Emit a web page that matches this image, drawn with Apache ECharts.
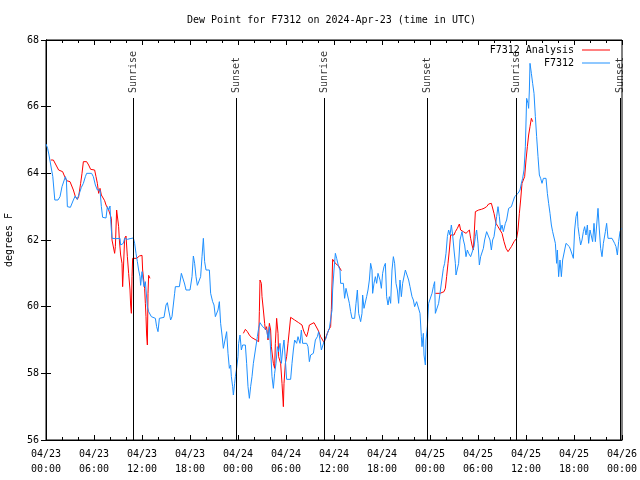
<!DOCTYPE html>
<html>
<head>
<meta charset="utf-8">
<script src="https://cdn.jsdelivr.net/npm/echarts@6/dist/echarts.min.js"></script>
<style>html,body{margin:0;padding:0;background:#fff}#c{width:640px;height:480px}</style>
</head>
<body>
<div id="c"></div>
<script>
// Hours since 2024-04-23 00:00 UTC
const obsHour = [0.0,0.2,0.35,0.6,0.85,1.1,1.5,1.75,2.0,2.2,2.42,2.55,2.67,3.05,3.2,3.42,3.65,3.9,4.17,4.42,4.67,4.92,5.08,5.7,5.92,6.17,6.42,6.75,6.92,7.08,7.5,7.67,7.83,8.0,8.08,8.17,8.25,8.75,9.25,9.33,9.67,9.83,10.17,10.5,10.92,11.08,11.25,11.42,11.58,11.75,11.83,12.0,12.25,12.42,12.67,12.83,13.17,13.67,13.83,14.0,14.17,14.75,15.0,15.17,15.33,15.58,15.75,16.08,16.17,16.67,16.92,17.17,17.33,17.5,18.0,18.25,18.42,18.58,18.75,18.92,19.17,19.33,19.5,19.67,19.83,20.0,20.42,20.58,20.83,21.0,21.17,21.5,21.67,21.83,22.0,22.17,22.42,22.58,22.75,22.92,23.08,23.17,23.33,23.42,23.58,23.67,23.83,24.0,24.08,24.25,24.42,24.58,24.75,24.92,25.08,25.25,25.42,25.58,25.75,25.92,26.17,26.42,26.58,26.75,27.08,27.33,27.58,27.75,27.92,28.08,28.25,28.42,28.58,28.75,28.92,29.08,29.25,29.42,29.58,29.75,29.92,30.08,30.58,30.75,30.92,31.08,31.33,31.5,31.75,31.92,32.08,32.33,32.58,32.75,32.92,33.08,33.42,33.67,33.92,34.08,34.25,34.42,34.58,34.75,35.0,35.17,35.42,35.58,35.75,35.83,36.0,36.17,36.33,36.58,36.75,36.83,37.08,37.17,37.33,37.5,37.75,37.92,38.08,38.25,38.58,38.75,38.92,39.08,39.33,39.5,39.58,39.75,39.92,40.08,40.25,40.42,40.58,40.75,40.83,41.0,41.17,41.33,41.5,41.75,41.92,42.08,42.25,42.42,42.58,42.75,42.92,43.08,43.25,43.42,43.58,43.75,43.92,44.08,44.25,44.42,44.58,44.75,44.92,45.17,45.33,45.5,45.75,45.92,46.08,46.33,46.58,46.75,46.92,47.0,47.17,47.25,47.42,47.5,47.67,47.83,48.08,48.25,48.42,48.58,48.67,48.92,49.08,49.25,49.5,49.67,49.83,50.0,50.17,50.33,50.5,50.67,50.83,51.0,51.17,51.25,51.42,51.58,51.75,52.0,52.17,52.33,52.5,52.67,52.83,53.08,53.33,53.5,53.67,53.83,54.0,54.17,54.33,54.5,54.67,54.83,55.08,55.33,55.5,55.67,55.83,56.0,56.17,56.33,56.5,56.67,56.83,57.0,57.17,57.42,57.58,57.83,58.17,58.42,58.58,58.83,59.0,59.25,59.42,59.58,59.75,59.92,60.08,60.25,60.33,60.42,60.5,60.67,60.83,61.0,61.17,61.33,61.5,61.67,61.83,62.0,62.17,62.33,62.5,62.67,62.83,63.0,63.17,63.33,63.5,63.67,63.83,63.92,64.08,64.25,64.42,64.58,64.83,65.0,65.25,65.42,65.58,65.75,65.92,66.08,66.25,66.42,66.5,66.67,66.83,67.0,67.17,67.33,67.5,67.67,67.83,68.0,68.17,68.33,68.5,68.67,68.83,69.0,69.17,69.33,69.5,69.67,69.92,70.08,70.25,70.5,70.75,70.92,71.08,71.25,71.42,71.58,71.75,71.92];
const obsDewF = [64.88,64.75,64.58,64.6,63.9,63.2,63.2,63.3,63.6,63.55,63.9,63.8,63.0,62.98,62.93,63.2,63.32,63.22,63.4,63.58,63.7,63.9,64.0,64.0,63.9,63.65,63.5,63.5,63.0,62.68,62.66,63.0,62.9,63.02,62.62,62.3,62.05,62.04,62.05,61.85,61.9,62.05,62.02,62.04,62.06,61.9,61.6,61.35,61.1,60.9,60.64,61.05,60.6,60.75,60.0,59.85,59.7,59.65,59.4,59.25,59.65,59.68,60.05,60.12,59.9,59.6,59.7,60.4,60.6,60.6,61.0,61.0,60.68,60.5,60.5,60.9,61.52,61.3,60.9,60.64,60.62,60.9,61.5,62.05,61.35,61.1,61.1,60.4,60.15,60.05,59.7,59.9,60.15,59.5,59.15,58.75,58.75,59.25,58.6,58.15,58.25,57.9,57.6,57.35,57.7,57.9,58.15,58.5,58.9,59.15,58.7,58.85,58.8,58.85,58.3,57.6,57.25,57.6,57.9,58.3,58.7,59.1,59.35,59.52,59.4,59.35,59.3,59.05,59.4,58.7,57.9,57.55,58.0,58.3,58.8,58.65,58.9,58.3,58.7,59.0,58.4,57.82,57.82,58.3,58.7,59.0,58.9,59.1,58.9,59.3,58.9,58.85,58.9,58.8,58.35,58.55,58.6,59.0,59.1,59.25,59.0,58.7,58.75,58.95,59.05,59.2,59.35,59.4,59.9,60.5,61.1,61.6,61.45,61.2,61.1,60.7,60.65,60.7,60.25,60.55,60.5,60.1,59.85,59.65,59.65,60.1,60.5,59.8,59.55,59.8,60.35,59.95,59.9,60.3,60.5,60.8,61.3,61.1,60.4,60.7,60.9,60.7,61.0,60.8,60.55,61.0,61.2,61.3,60.3,60.05,60.3,60.1,61.1,61.5,61.3,60.7,60.5,60.1,60.8,60.3,60.7,60.7,61.1,61.1,60.8,60.6,60.3,60.2,60.0,60.15,60.15,59.8,59.1,58.8,59.2,58.55,58.25,59.0,59.4,60.1,60.15,60.4,60.6,60.75,59.8,59.8,60.1,60.4,60.45,61.15,61.3,61.6,62.1,62.3,62.15,62.45,62.15,61.7,61.3,60.95,60.95,61.3,62.0,62.25,62.0,61.85,61.5,61.7,61.6,61.5,61.5,61.8,62.1,62.3,61.9,61.25,61.5,61.5,61.75,62.0,62.25,62.25,62.0,61.7,62.0,62.1,62.4,62.7,63.0,62.7,62.3,62.45,62.25,62.5,62.6,62.95,63.0,63.0,63.3,63.3,63.4,63.5,63.7,63.85,64.1,64.8,66.25,66.1,65.95,66.5,67.3,67.0,66.7,66.4,65.7,65.1,64.5,63.95,63.85,63.7,63.85,63.9,63.85,63.4,63.1,62.8,62.45,62.25,62.2,61.9,61.3,61.7,60.9,61.4,60.9,61.4,61.4,61.9,61.85,61.8,61.7,61.7,61.45,62.3,62.7,62.85,62.4,62.1,61.85,62.0,62.25,62.4,62.15,62.45,61.9,62.3,62.35,61.95,62.5,61.95,61.95,62.95,62.3,61.75,61.5,61.9,62.25,62.5,62.05,62.0,62.05,62.0,61.9,61.8,61.55,61.95,62.25,62.35];

// Analysis series; null marks a gap in the analysis
const anaHour = [0.6,0.92,1.25,1.42,1.58,1.75,2.08,2.25,2.42,2.58,3.0,3.17,3.42,3.67,3.92,4.08,4.17,4.33,4.5,4.67,5.08,5.33,5.58,6.08,6.25,6.42,6.58,6.75,6.92,7.08,7.33,7.5,7.67,7.83,8.0,8.17,8.25,8.5,8.58,8.67,8.83,9.0,9.08,9.17,9.33,9.5,9.58,9.67,9.83,10.0,10.17,10.33,10.5,10.58,10.67,10.75,10.83,11.33,11.67,12.0,12.08,12.25,12.33,12.42,12.5,12.58,12.67,12.75,12.83,13.0,
  18.0,
  24.67,24.92,25.17,25.42,25.67,25.92,26.25,26.58,26.67,26.75,26.92,27.0,27.17,27.33,27.42,27.58,27.75,27.92,28.08,28.17,28.42,28.58,28.67,28.83,29.0,29.08,29.33,29.5,29.67,29.75,29.92,30.08,30.25,30.42,30.58,30.83,31.08,31.33,31.58,31.83,32.0,32.17,32.33,32.58,32.75,32.92,33.17,33.5,33.75,34.0,34.17,34.33,34.58,34.75,35.0,35.17,35.33,35.58,35.67,35.83,36.17,36.58,36.92,
  42.0,
  48.67,49.25,49.75,49.92,50.08,50.25,50.42,50.58,50.83,51.0,51.17,51.42,51.67,51.83,52.17,52.5,52.67,52.92,53.08,53.25,53.42,53.58,53.67,53.92,54.08,54.42,54.75,55.08,55.33,55.67,55.83,56.0,56.25,56.5,56.75,57.0,57.25,57.5,57.75,57.92,58.17,58.5,58.83,59.0,59.17,59.33,59.5,59.67,59.83,60.0,60.17,60.33,60.5,60.67,60.83];
const anaDewF = [64.4,64.4,64.25,64.2,64.1,64.05,64.05,63.95,63.9,63.78,63.75,63.65,63.5,63.3,63.22,63.3,63.35,63.7,64.0,64.35,64.35,64.25,64.12,64.1,63.9,63.7,63.4,63.55,63.35,63.3,63.18,63.05,63.02,62.9,62.9,62.65,62.0,62.0,61.6,61.8,62.9,62.9,62.4,62.0,61.55,61.3,60.6,61.1,62.05,62.12,61.5,61.0,60.5,60.05,59.8,60.9,61.45,61.45,61.52,61.54,61.1,60.7,60.55,60.1,59.7,59.15,58.85,60.4,60.94,60.85,
  null,
  59.2,59.32,59.25,59.15,59.08,59.02,59.0,58.95,59.85,60.8,60.7,60.3,59.9,59.5,59.3,59.4,59.0,59.5,59.3,58.8,58.3,58.15,58.9,59.65,59.2,58.5,58.3,57.7,57.0,57.7,58.3,58.5,58.9,59.3,59.68,59.65,59.6,59.55,59.52,59.5,59.45,59.3,59.2,59.1,59.25,59.45,59.5,59.52,59.5,59.3,59.25,59.1,59.0,58.92,59.1,59.2,59.3,59.4,59.92,61.42,61.3,61.22,61.08,
  null,
  60.4,60.4,60.45,60.55,60.9,61.3,61.7,62.15,62.15,62.15,62.25,62.35,62.48,62.3,62.25,62.2,62.25,62.3,62.05,61.85,61.7,61.65,62.85,62.85,62.9,62.92,62.95,63.0,63.08,63.1,63.05,62.8,62.5,62.4,62.35,62.2,61.95,61.75,61.65,61.7,61.8,61.95,62.05,62.3,62.8,63.2,63.7,63.75,63.9,64.4,64.8,65.15,65.4,65.65,65.55];

const sunHour = [10.92, 23.83, 34.79, 47.69, 58.79, 71.75];
const sunLabel = ['Sunrise','Sunset','Sunrise','Sunset','Sunrise','Sunset'];
const sunLineTop = 66.26;

const yTicks = [56, 58, 60, 62, 64, 66, 68];

const FONT = 'DejaVu Sans Mono';
function pad(n){ return (n < 10 ? '0' : '') + n; }
function hourLabel(h){
  const d = 23 + Math.floor(h / 24);
  const hh = Math.round(h % 24);
  return '04/' + pad(d) + '\n' + pad(hh) + ':00';
}

const obsData = obsHour.map((h, i) => [h, obsDewF[i]]);
const anaData = anaHour.map((h, i) => [h, anaDewF[i]]);
const sunPts = sunHour.map((h, i) => [h, sunLineTop, sunLabel[i]]);
const sunLines = sunHour.map(h => [{coord: [h, yTicks[0]]}, {coord: [h, sunLineTop]}]);

const chart = echarts.init(document.getElementById('c'), null, {renderer: 'canvas'});
const axisCommon = {
  axisLine: {show: true, lineStyle: {color: '#000', width: 1}},
  splitLine: {show: false}
};
chart.setOption({
  animation: false,
  backgroundColor: '#fff',
  textStyle: {fontFamily: FONT},
  title: {
    text: 'Dew Point for F7312 on 2024-Apr-23 (time in UTC)',
    left: 182, top: 10,
    textStyle: {fontFamily: FONT, fontSize: 10, fontWeight: 'normal', color: '#000'}
  },
  legend: {
    data: ['F7312 Analysis', 'F7312'],
    orient: 'vertical',
    right: 30, top: 44,
    padding: 0,
    align: 'right',
    icon: 'rect',
    itemWidth: 28, itemHeight: 1, itemGap: 1,
    textStyle: {fontFamily: FONT, fontSize: 10, color: '#000', lineHeight: 12, padding: [0, 3, 0, 0]}
  },
  grid: {left: 46, right: 18, top: 40, bottom: 40, show: true, borderColor: '#000', borderWidth: 1,
    containLabel: false, outerBoundsMode: 'none'},
  xAxis: [{
    type: 'value', min: 0, max: 72, interval: 6, position: 'bottom',
    ...axisCommon,
    axisTick: {show: true, inside: true, length: 5, lineStyle: {color: '#000'}},
    minorTick: {show: true, splitNumber: 3, length: 3, lineStyle: {color: '#000'}},
    axisLabel: {formatter: hourLabel, fontFamily: FONT, fontSize: 10, color: '#000', lineHeight: 15, margin: 7, showMinLabel: true, showMaxLabel: true, hideOverlap: false}
  }, {
    type: 'value', min: 0, max: 72, interval: 6, position: 'top',
    ...axisCommon,
    axisTick: {show: true, inside: true, length: 5, lineStyle: {color: '#000'}},
    minorTick: {show: true, splitNumber: 3, length: 3, lineStyle: {color: '#000'}},
    axisLabel: {show: false}
  }],
  yAxis: [{
    type: 'value', min: yTicks[0], max: yTicks[yTicks.length - 1], interval: 2, position: 'left',
    name: 'degrees F', nameLocation: 'middle', nameGap: 32, nameRotate: 90,
    nameTextStyle: {fontFamily: FONT, fontSize: 10, color: '#000'},
    ...axisCommon,
    axisTick: {show: true, inside: true, length: 5, lineStyle: {color: '#000'}},
    axisLabel: {fontFamily: FONT, fontSize: 10, color: '#000', margin: 7}
  }, {
    type: 'value', min: yTicks[0], max: yTicks[yTicks.length - 1], interval: 2, position: 'right',
    ...axisCommon,
    axisTick: {show: true, inside: true, length: 5, lineStyle: {color: '#000'}},
    axisLabel: {show: false}
  }],
  series: [{
    name: 'F7312 Analysis', type: 'line', data: anaData,
    showSymbol: false, symbol: 'none', connectNulls: false,
    lineStyle: {color: '#ff0000', width: 1}, itemStyle: {color: '#ff0000'}
  }, {
    name: 'F7312', type: 'line', data: obsData,
    showSymbol: false, symbol: 'none',
    lineStyle: {color: '#1e90ff', width: 1}, itemStyle: {color: '#1e90ff'}
  }, {
    name: 'sun', type: 'scatter', data: sunPts, symbolSize: 0, silent: true,
    label: {
      show: true, rotate: 90, position: 'top', distance: 5,
      align: 'left', verticalAlign: 'middle',
      formatter: p => p.value[2],
      fontFamily: FONT, fontSize: 10, color: '#000'
    },
    markLine: {
      silent: true, symbol: 'none', animation: false,
      label: {show: false},
      lineStyle: {color: '#000', width: 1, type: 'solid'},
      emphasis: {disabled: true},
      data: sunLines
    }
  }]
});
</script>
</body>
</html>
